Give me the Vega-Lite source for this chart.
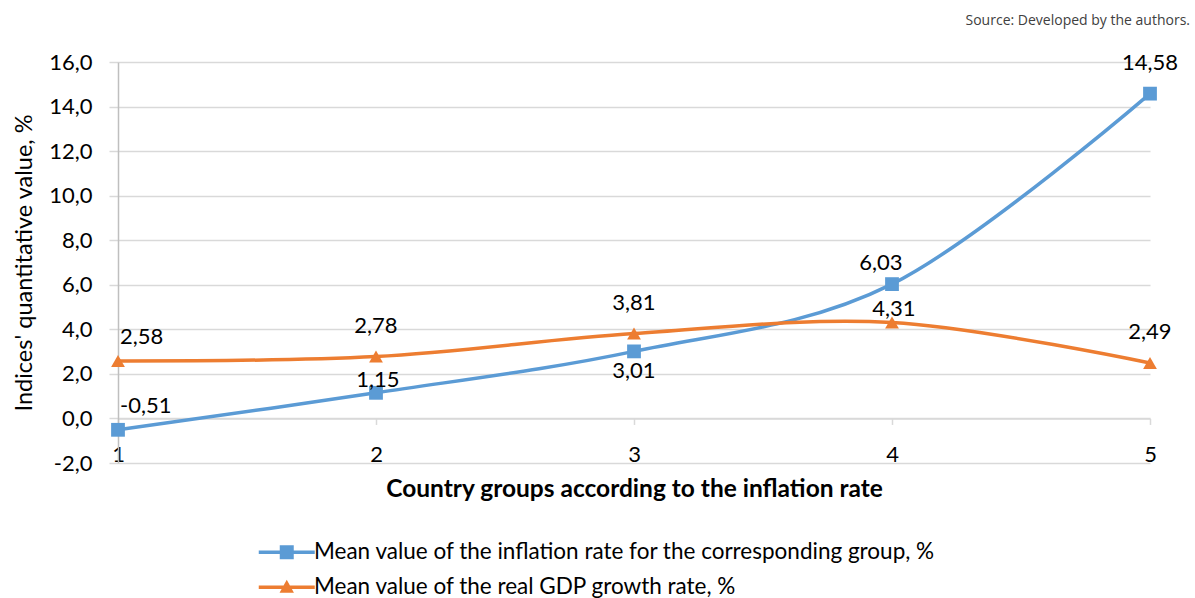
{
  "$schema": "https://vega.github.io/schema/vega-lite/v6.json",
  "width": 1032,
  "height": 401,
  "autosize": {"type": "none"},
  "padding": {"left": 118, "top": 62, "right": 45, "bottom": 135},
  "background": "white",
  "title": {"text": "Source: Developed by the authors.", "anchor": "end", "frame": "group", "dx": 40, "offset": 23, "fontSize": 14, "font": "Open Sans", "fontWeight": "normal", "color": "#404040"},
  "config": {
    "locale": {"number": {"decimal": ",", "thousands": ".", "grouping": [3], "currency": ["", ""], "minus": "-"}},
    "font": "Lato",
    "view": {"stroke": null}
  },
  "data": {"values": [
    {"group": 1, "series": "Mean value of the inflation rate for the corresponding group, %", "value": -0.51},
    {"group": 2, "series": "Mean value of the inflation rate for the corresponding group, %", "value": 1.15},
    {"group": 3, "series": "Mean value of the inflation rate for the corresponding group, %", "value": 3.01},
    {"group": 4, "series": "Mean value of the inflation rate for the corresponding group, %", "value": 6.03},
    {"group": 5, "series": "Mean value of the inflation rate for the corresponding group, %", "value": 14.58},
    {"group": 1, "series": "Mean value of the real GDP growth rate, %", "value": 2.58},
    {"group": 2, "series": "Mean value of the real GDP growth rate, %", "value": 2.78},
    {"group": 3, "series": "Mean value of the real GDP growth rate, %", "value": 3.81},
    {"group": 4, "series": "Mean value of the real GDP growth rate, %", "value": 4.31},
    {"group": 5, "series": "Mean value of the real GDP growth rate, %", "value": 2.49}
  ]},
  "encoding": {
    "x": {"field": "group", "type": "quantitative", "scale": {"domain": [1, 5], "nice": false, "zero": false},
      "axis": {"values": [1, 2, 3, 4, 5], "format": "d", "offset": -44.56, "grid": false, "domainColor": "#d9d9d9", "domainWidth": 1.5, "tickColor": "#d9d9d9", "tickWidth": 1.5, "tickSize": 6, "labelPadding": 20, "labelFontSize": 22, "labelFont": "Lato", "labelColor": "#000000", "labelFlush": false, "title": "Country groups according to the inflation rate", "titleFontSize": 24.5, "titleFont": "Lato", "titleFontWeight": "bold", "titleColor": "#000000", "titlePadding": 12}},
    "y": {"field": "value", "type": "quantitative", "scale": {"domain": [-2, 16], "nice": false, "zero": false},
      "axis": {"values": [-2, 0, 2, 4, 6, 8, 10, 12, 14, 16], "format": ".1f", "grid": true, "gridColor": "#d9d9d9", "gridWidth": 1.5, "domainColor": "#bfbfbf", "domainWidth": 1.5, "tickColor": "#d9d9d9", "tickWidth": 1.5, "tickSize": 9, "labelPadding": 17, "labelFontSize": 22, "labelFont": "Lato", "labelColor": "#000000", "title": "Indices' quantitative value, %", "titleFontSize": 23.5, "titleFont": "Lato", "titleFontWeight": "normal", "titleColor": "#000000", "titlePadding": 12}}
  },
  "layer": [
    {
      "mark": {"type": "line", "interpolate": "cardinal", "strokeWidth": 3.5},
      "encoding": {
        "color": {"field": "series", "type": "nominal",
          "scale": {"domain": ["Mean value of the inflation rate for the corresponding group, %", "Mean value of the real GDP growth rate, %"], "range": ["#5B9BD5", "#ED7D31"]},
          "legend": {"orient": "none", "legendX": 157.5, "legendY": 479, "direction": "vertical", "title": null, "labelFontSize": 22.5, "labelFont": "Lato", "labelColor": "#000000", "symbolSize": 400, "labelOffset": 16, "rowPadding": 12, "labelLimit": 1000,
            "encode": {"symbols": {"update": {
              "shape": {"signal": "test(/inflation/, datum.value) ? 'M-2.8,-0.17H2.8V0.17H-2.8Z M-0.7,-0.7H0.7V0.7H-0.7Z' : 'M-2.8,-0.17H2.8V0.17H-2.8Z M0,-0.75L0.72,0.55H-0.72Z'"},
              "fill": {"signal": "scale('color', datum.value)"},
              "stroke": {"value": "transparent"},
              "strokeWidth": {"value": 0},
              "opacity": {"value": 1}
            }}}}
        }
      }
    },
    {
      "transform": [{"filter": "test(/inflation/, datum.series)"}],
      "mark": {"type": "point", "filled": true, "shape": "square", "size": 190, "opacity": 1},
      "encoding": {
        "color": {"field": "series", "type": "nominal", "legend": null}
      }
    },
    {
      "transform": [{"filter": "!test(/inflation/, datum.series)"}],
      "mark": {"type": "point", "filled": true, "shape": "triangle-up", "size": 190, "opacity": 1},
      "encoding": {
        "color": {"field": "series", "type": "nominal", "legend": null}
      }
    },
    {
      "transform": [{"filter": "datum.group == 1"}],
      "mark": {"type": "text", "fontSize": 22, "font": "Lato", "color": "#000000", "align": "left", "baseline": "middle", "dx": 2, "dy": -24},
      "encoding": {"text": {"field": "value", "type": "quantitative", "format": ".2f"}}
    },
    {
      "transform": [{"filter": "(!test(/inflation/, datum.series) && (datum.group == 2 || datum.group == 3 || datum.group == 5)) || (test(/inflation/, datum.series) && datum.group == 5)"}],
      "mark": {"type": "text", "fontSize": 22, "font": "Lato", "color": "#000000", "align": "center", "baseline": "middle", "dy": -31},
      "encoding": {"text": {"field": "value", "type": "quantitative", "format": ".2f"}}
    },
    {
      "transform": [{"filter": "test(/inflation/, datum.series) && datum.group == 4"}],
      "mark": {"type": "text", "fontSize": 22, "font": "Lato", "color": "#000000", "align": "center", "baseline": "middle", "dx": -11, "dy": -21},
      "encoding": {"text": {"field": "value", "type": "quantitative", "format": ".2f"}}
    },
    {
      "transform": [{"filter": "(test(/inflation/, datum.series) && datum.group == 2) || (!test(/inflation/, datum.series) && datum.group == 4)"}],
      "mark": {"type": "text", "fontSize": 22, "font": "Lato", "color": "#000000", "align": "center", "baseline": "middle", "dx": 2, "dy": -13},
      "encoding": {"text": {"field": "value", "type": "quantitative", "format": ".2f"}}
    },
    {
      "transform": [{"filter": "test(/inflation/, datum.series) && datum.group == 3"}],
      "mark": {"type": "text", "fontSize": 22, "font": "Lato", "color": "#000000", "align": "center", "baseline": "middle", "dy": 20},
      "encoding": {"text": {"field": "value", "type": "quantitative", "format": ".2f"}}
    }
  ]
}
